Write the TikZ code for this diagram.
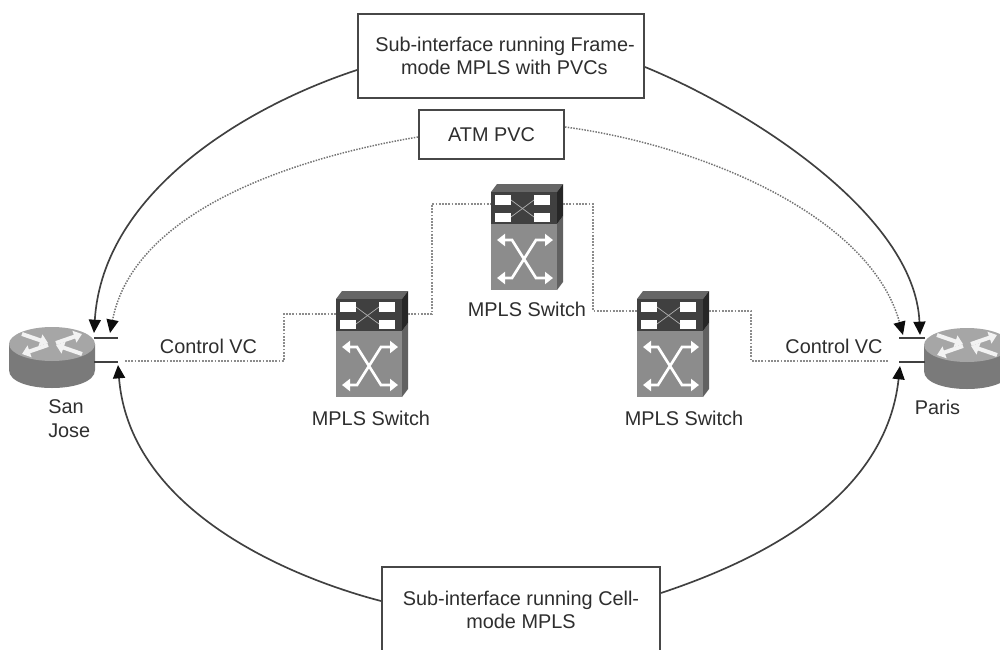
\documentclass[tikz,border=0pt]{standalone}
\usepackage{fontspec}
\setmainfont{Liberation Sans}
\usetikzlibrary{arrows.meta}
\definecolor{txt}{HTML}{2E2E2E}
\tikzset{
  x=0.75pt,y=-0.75pt,
  lab/.style={font=\fontsize{14.9}{17.8}\selectfont,text=txt,inner sep=0pt,align=center},
  boxn/.style={draw=black!72,line width=1.3pt,fill=white,inner sep=0pt,align=center,font=\fontsize{14.9}{17.8}\selectfont,text=txt},
  solidarc/.style={draw=black!75,line width=1.25pt,-{Triangle[length=10pt,width=9pt,black!95]}},
  dotarc/.style={draw=black!55,line width=1.1pt,densely dotted,-{Triangle[length=10pt,width=9pt,black!95]}},
  ctrl/.style={draw=black!45,line width=1.4pt,densely dotted},
  stub/.style={draw=black!75,line width=1.25pt},
  swarrow/.style={draw=white,line width=2pt,{Triangle[length=6pt,width=9pt]}-{Triangle[length=6pt,width=9pt]}},
  rarrow/.style={draw=white!95!black,line width=3pt,-{Triangle[length=6pt,width=9pt]}}
}
\newcommand{\swicon}[2]{%
 \begin{scope}[shift={(#1,#2)}]
  \fill[black!60] (0,0)--(6,-8)--(72,-8)--(66,0)--cycle;
  \fill[black!62] (66,32)--(72,24)--(72,90)--(66,98)--cycle;
  \fill[black!85] (66,0)--(72,-8)--(72,24)--(66,32)--cycle;
  \fill[black!75] (0,0) rectangle (66,32);
  \fill[black!45] (0,32) rectangle (66,98);
  \fill[white] (4,3) rectangle (20,13);
  \fill[white] (43,3) rectangle (59,13);
  \fill[white] (4,21) rectangle (20,30);
  \fill[white] (43,21) rectangle (59,30);
  \draw[black!30,line width=0.5pt] (20,8)--(43,25) (20,25)--(43,8);
  \draw[swarrow] (6,48)--(21,48)--(45,86)--(62,86);
  \draw[swarrow] (62,48)--(45,48)--(21,86)--(6,86);
 \end{scope}}
\newcommand{\rticon}[2]{%
 \begin{scope}[shift={(#1,#2)}]
  \fill[black!52] (-43,0)--(-43,26) .. controls (-43,50) and (43,50) .. (43,26)--(43,0)--cycle;
  \fill[black!35] (0,0) ellipse[x radius=43,y radius=17];
  \draw[rarrow] (-30,-10)--(-4,-1);
  \draw[rarrow] (30,10)--(4,1);
  \draw[rarrow] (4,-1)--(30,-10);
  \draw[rarrow] (-4,1)--(-30,10);
 \end{scope}}
\begin{document}
\begin{tikzpicture}
\useasboundingbox (0,0) rectangle (1000,650);
\clip (0,0) rectangle (1000,650);
\fill[white] (0,0) rectangle (1000,650);

\rticon{52}{344}
\rticon{967}{345}
\swicon{336}{299}
\swicon{491}{192}
\swicon{637}{299}

\coordinate (sjt) at (118,338);
\coordinate (sjb) at (118,362);
\coordinate (pat) at (899,338);
\coordinate (pab) at (899,362);
\coordinate (sja) at (94,338);
\coordinate (sjc) at (94,362);
\coordinate (paa) at (925,338);
\coordinate (pac) at (925,362);
\draw[stub] (sja)--(sjt);
\draw[stub] (sjc)--(sjb);
\draw[stub] (paa)--(pat);
\draw[stub] (pac)--(pab);

\node[boxn,minimum width=214.5pt,minimum height=63pt] (b1) at (501,56) {\hspace*{6pt}Sub-interface running Frame-\\\hspace*{5pt}mode MPLS with PVCs};
\node[boxn,minimum width=108.75pt,minimum height=36.75pt] (b2) at (491.5,134.5) {ATM PVC};
\node[boxn,minimum width=208.5pt,minimum height=64.5pt] (b3) at (521,610) {Sub-interface running Cell-\\mode MPLS};

\coordinate (s1) at (357,70);
\coordinate (s2) at (418,137);
\coordinate (s3) at (381,601);
\coordinate (s4) at (645,67);
\coordinate (s5) at (565,127);
\coordinate (s6) at (661,593);
\coordinate (e1) at (94,333);
\coordinate (e2) at (110,333);
\coordinate (e3) at (118,365);
\coordinate (e4) at (920,335);
\coordinate (e5) at (903,335);
\coordinate (e6) at (900,366);
\draw[solidarc] (s1) .. controls (250,105) and (103,190) .. (e1);
\draw[dotarc] (s2) .. controls (310,155) and (135,205) .. (e2);
\draw[solidarc] (s3) .. controls (300,580) and (130,515) .. (e3);
\draw[solidarc] (s4) .. controls (750,110) and (915,215) .. (e4);
\draw[dotarc] (s5) .. controls (700,145) and (870,215) .. (e5);
\draw[solidarc] (s6) .. controls (745,565) and (885,505) .. (e6);

\coordinate (c1) at (125,361);
\coordinate (c2) at (888,361);
\coordinate (p1) at (336,314);
\coordinate (p2) at (408,314);
\coordinate (p3) at (491,204);
\coordinate (p4) at (563,204);
\coordinate (p5) at (637,311);
\coordinate (p6) at (709,311);
\draw[ctrl] (c1)--(284,361)--(284,314)--(p1);
\draw[ctrl] (p2)--(432,314)--(432,204)--(p3);
\draw[ctrl] (p4)--(593,204)--(593,311)--(p5);
\draw[ctrl] (p6)--(751,311)--(751,361)--(c2);

\node[lab] (l1) at (208.5,346) {Control VC};
\node[lab] (l2) at (834,346) {Control VC};
\node[lab] (l3) at (371,418) {MPLS Switch};
\node[lab] (l4) at (527,309) {MPLS Switch};
\node[lab] (l5) at (684,418) {MPLS Switch};
\node[lab,align=left,anchor=west] (l6) at (48,419) {San\\Jose};
\node[lab] (l7) at (937.5,407) {Paris};
\end{tikzpicture}
\end{document}
